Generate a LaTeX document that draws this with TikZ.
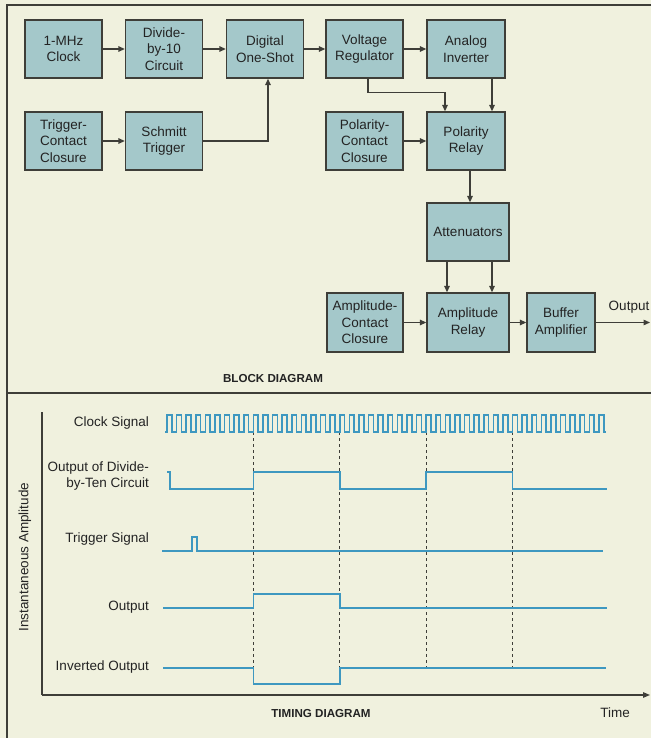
\documentclass[tikz,border=0pt]{standalone}
\usepackage{fontspec}
\setmainfont{Liberation Sans}
\usetikzlibrary{arrows.meta}
\definecolor{bg}{RGB}{240,241,222}
\definecolor{boxfill}{RGB}{164,200,202}
\definecolor{ink}{RGB}{62,62,56}
\definecolor{wave}{RGB}{62,152,192}
\definecolor{txt}{RGB}{35,35,35}
\begin{document}
\begin{tikzpicture}[x=1pt,y=-1pt,
  blk/.style={draw=ink, fill=boxfill, line width=1.3pt, minimum width=77pt, minimum height=58pt, inner sep=0pt, align=center, font=\fontsize{13.5}{16.5}\selectfont, text=txt},
  conn/.style={draw=ink, line width=1.3pt, -{Triangle[length=6.5pt,width=5.5pt]}},
  lbl/.style={font=\fontsize{13.5}{16.5}\selectfont, text=txt, inner sep=0pt},
  ttl/.style={font=\fontsize{11.6}{13}\selectfont\bfseries, text=txt, inner sep=0pt},
  sig/.style={draw=wave, line width=1.6pt, line join=miter},
  guide/.style={draw=ink, line width=0.9pt, dash pattern=on 3pt off 3pt},
  frame/.style={draw=ink, line width=1.2pt}
]
\useasboundingbox (0,0) rectangle (651,738);
\fill[bg] (0,0) rectangle (651,738);

% frame
\draw[frame] (651,5) -- (7,5) -- (7,738);
\draw[frame] (7,393) -- (651,393);

% ---------------- block diagram ----------------
\node[blk] (clk)  at (63.5,49) {1-MHz\\Clock};
\node[blk] (div)  at (164,49)  {Divide-\\by-10\\Circuit};
\node[blk] (one)  at (265,49)  {Digital\\One-Shot};
\node[blk] (vreg) at (364.5,49) {Voltage\\Regulator};
\node[blk, minimum width=78pt] (inv) at (466,49) {Analog\\Inverter};

\node[blk] (trig) at (63.5,141) {Trigger-\\Contact\\Closure};
\node[blk] (schm) at (164,141)  {Schmitt\\Trigger};
\node[blk] (pcc)  at (364.5,141) {Polarity-\\Contact\\Closure};
\node[blk, minimum width=78pt] (prel) at (466,141) {Polarity\\Relay};

\node[blk, minimum width=82pt] (att) at (468,232) {Attenuators};

\node[blk, minimum width=76pt, minimum height=59pt] (acc) at (365,322.5) {Amplitude-\\Contact\\Closure};
\node[blk, minimum width=82pt, minimum height=59pt] (arel) at (468,322.5) {Amplitude\\Relay};
\node[blk, minimum width=68pt, minimum height=59pt] (buf) at (561,322.5) {Buffer\\Amplifier};
\coordinate (outend) at (650,322.5);
\node[lbl] (outlbl) at (629,307) {Output};

\draw[conn] (clk) -- (div);
\draw[conn] (div) -- (one);
\draw[conn] (one) -- (vreg);
\draw[conn] (vreg) -- (inv);
\draw[conn] (trig) -- (schm);
\draw[conn] (schm.east) -| ([xshift=3pt]one.south);
\draw[conn] ([xshift=3.5pt]vreg.south) -- ++(0,14) -| ([xshift=-21pt]prel.north);
\draw[conn] ([xshift=26pt]inv.south) -- ([xshift=26pt]prel.north);
\draw[conn] (pcc) -- (prel);
\draw[conn] ([xshift=4pt]prel.south) -- ([xshift=2pt]att.north);
\draw[conn] ([xshift=-21pt]att.south) -- ([xshift=-21pt]arel.north);
\draw[conn] ([xshift=24pt]att.south) -- ([xshift=24pt]arel.north);
\draw[conn] (acc) -- (arel);
\draw[conn] (arel) -- (buf);
\draw[conn] (buf) -- (outend);

\node[ttl] (bdt) at (273,379) {BLOCK DIAGRAM};

% ---------------- timing diagram ----------------
\coordinate (yaxtop) at (42,412);
\coordinate (origin) at (42,695);
\coordinate (xaxend) at (650,695);
\draw[frame] (yaxtop) -- (origin);
\draw[frame, -{Triangle[length=7pt,width=5.5pt]}] (origin) -- (xaxend);

\node[lbl, rotate=90] (ylab) at (25,557) {Instantaneous Amplitude};
\node[ttl] (tdt) at (321,713) {TIMING DIAGRAM};
\node[lbl] (tlab) at (615,713) {Time};

\node[lbl, anchor=east] (l1) at (149,423) {Clock Signal};
\node[lbl, anchor=east, align=right] (l2) at (149,476) {Output of Divide-\\by-Ten Circuit};
\node[lbl, anchor=east] (l3) at (149,539) {Trigger Signal};
\node[lbl, anchor=east] (l4) at (149,607) {Output};
\node[lbl, anchor=east] (l5) at (149,667) {Inverted Output};

% guide lines (at clock rising edges)
\def\da{253.4}\def\db{339.8}\def\dc{426.2}\def\dd{512.6}
\draw[guide] (\da,432) -- (\da,684);
\draw[guide] (\db,432) -- (\db,684);
\draw[guide] (\dc,432) -- (\dc,668);
\draw[guide] (\dd,432) -- (\dd,668);

% clock
\draw[sig] (165,432) \foreach \k in {0,...,45}{ -- ({167+\k*9.6},432) -- ({167+\k*9.6},415) -- ({167+(\k+0.5)*9.6},415) -- ({167+(\k+0.5)*9.6},432)} -- (606,432);

% divide-by-ten
\draw[sig] (167,472) -- (170,472) -- (170,489) -- (\da,489) -- (\da,472) -- (\db,472) -- (\db,489) -- (\dc,489) -- (\dc,472) -- (\dd,472) -- (\dd,489) -- (607,489);

% trigger
\draw[sig] (162,551) -- (192,551) -- (192,537) -- (197,537) -- (197,551) -- (603,551);

% output
\draw[sig] (163,608) -- (\da,608) -- (\da,594) -- (\db,594) -- (\db,608) -- (607,608);

% inverted output
\draw[sig] (163,668) -- (\da,668) -- (\da,684) -- (\db,684) -- (\db,668) -- (606,668);
\end{tikzpicture}
\end{document}
